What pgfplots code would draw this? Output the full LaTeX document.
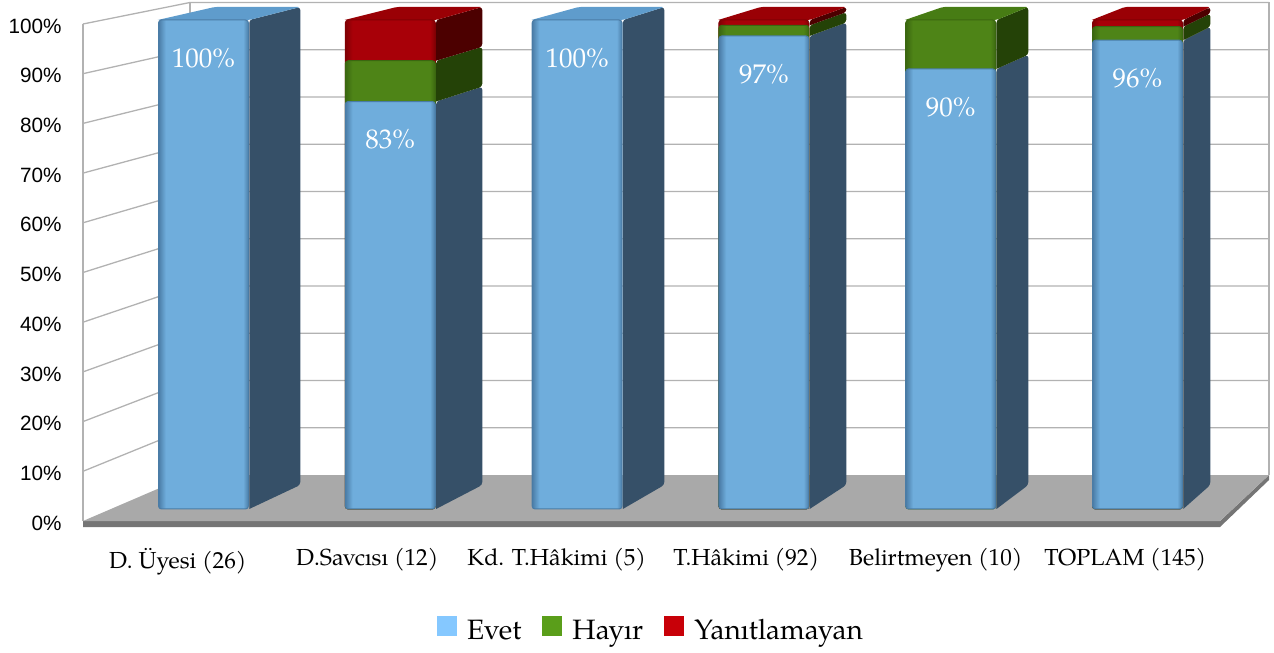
\documentclass[border=0pt]{standalone}
\usepackage{pgfplots}
\usepackage{fontspec}
\pgfplotsset{compat=1.18}
\setmainfont{TeX Gyre Pagella}
\newfontfamily\arial{Liberation Sans}

\definecolor{wallgray}{HTML}{B2B2B2}
\definecolor{floorgray}{HTML}{A9A9A9}
\definecolor{slabgray}{HTML}{757575}
\definecolor{bluem}{HTML}{6FADDC}
\definecolor{bluee}{HTML}{4A7CA6}
\definecolor{bluetop}{HTML}{5F9CCC}
\definecolor{blueside}{HTML}{365068}
\definecolor{greenm}{HTML}{4E8417}
\definecolor{greene}{HTML}{3B6710}
\definecolor{greentop}{HTML}{477C14}
\definecolor{greenside}{HTML}{244207}
\definecolor{redm}{HTML}{A80008}
\definecolor{rede}{HTML}{800004}
\definecolor{redtop}{HTML}{9A0005}
\definecolor{redside}{HTML}{4C0000}
\definecolor{legblue}{HTML}{85C8FF}
\definecolor{leggreen}{HTML}{5A9E1A}
\definecolor{legred}{HTML}{C80008}

\pgfdeclarehorizontalshading{bevelblue}{100bp}{color(0bp)=(bluee);color(25bp)=(bluee);color(29bp)=(bluem);color(72bp)=(bluem);color(75bp)=(bluee);color(100bp)=(bluee)}
\pgfdeclarehorizontalshading{bevelgreen}{100bp}{color(0bp)=(greene);color(25bp)=(greene);color(29bp)=(greenm);color(72bp)=(greenm);color(75bp)=(greene);color(100bp)=(greene)}
\pgfdeclarehorizontalshading{bevelred}{100bp}{color(0bp)=(rede);color(25bp)=(rede);color(29bp)=(redm);color(72bp)=(redm);color(75bp)=(rede);color(100bp)=(rede)}

% depth of a bar: back plane values and x offsets shrink towards the right
\newcommand\sideface[4]{%
  \pgfmathsetmacro\xf{#1+0.245}%
  \pgfmathsetmacro\xb{#1+0.245+0.273-0.0256*#1}%
  \pgfmathsetmacro\ylo{4.91+0.9775*#2}%
  \pgfmathsetmacro\yhi{4.91+0.9775*#3}%
  \edef\temp{\noexpand\addplot[fill=#4,draw=none,rounded corners=3pt] coordinates {(\xf,#2)(\xb,\ylo)(\xb,\yhi)(\xf,#3)(\xf,#2)};}\temp}
\newcommand\topface[3]{%
  \pgfmathsetmacro\xfl{#1-0.245}%
  \pgfmathsetmacro\xfr{#1+0.245}%
  \pgfmathsetmacro\xbl{#1-0.245+0.305-0.0256*#1}%
  \pgfmathsetmacro\xbr{#1+0.245+0.273-0.0256*#1}%
  \pgfmathsetmacro\yb{4.91+0.9775*#2}%
  \edef\temp{\noexpand\addplot[fill=#3,draw=none,rounded corners=2pt] coordinates {(\xfl,#2)(\xbl,\yb)(\xbr,\yb)(\xfr,#2)(\xfl,#2)};}\temp}

\pgfplotsset{
  frame/.style={scale only axis,width=1274pt,height=653pt,at={(0pt,0pt)},anchor=south west,hide axis,clip=false},
  barframe/.style={frame,xmin=-1.0894,xmax=5.7307,ymin=-29.45,ymax=104.09},
  sq/.style={legend image code/.code={\fill[##1,draw=none] (0pt,-5pt) rectangle (20pt,15pt);}},
  front/.style 2 args={ybar,bar width=90pt,bar shift=0pt,draw=#2,line width=1pt,shade,shading=#1,rounded corners=3pt},
  labelled/.style={point meta=y,
    nodes near coords={\pgfmathprintnumber[fixed,precision=0,assume math mode=true]{\pgfplotspointmeta}\%},
    every node near coord/.style={anchor=center,yshift=-38pt,text=white,font=\fontsize{27}{27}\selectfont}},
}

\begin{document}
\begin{tikzpicture}
\path[use as bounding box] (0pt,0pt) rectangle (1274pt,653pt);

% walls and floor, in picture pixels
\begin{axis}[frame,xmin=0,xmax=1274,ymin=0,ymax=653,y dir=reverse]
  \addplot[fill=slabgray,draw=none] coordinates {(83,521)(1220,521)(1269,475)(1269,480)(1220,527)(83,527)(83,521)};
  \addplot[fill=floorgray,draw=none] coordinates {(83,521)(190,475)(1269,475)(1220,521)(83,521)};
  \addplot[wallgray,line width=1.3pt] coordinates {(83,521)(83,24)};
  \addplot[wallgray,line width=1.3pt] coordinates {(190,475)(190,2.5)};
  \addplot[wallgray,line width=1.3pt] coordinates {(1269,475)(1269,2.5)};
  \addplot[wallgray,line width=1.3pt] coordinates {(83,471.3)(190,427.75)(1269,427.75)};
  \addplot[wallgray,line width=1.3pt] coordinates {(83,421.6)(190,380.5)(1269,380.5)};
  \addplot[wallgray,line width=1.3pt] coordinates {(83,371.9)(190,333.25)(1269,333.25)};
  \addplot[wallgray,line width=1.3pt] coordinates {(83,322.2)(190,286)(1269,286)};
  \addplot[wallgray,line width=1.3pt] coordinates {(83,272.5)(190,238.75)(1269,238.75)};
  \addplot[wallgray,line width=1.3pt] coordinates {(83,222.8)(190,191.5)(1269,191.5)};
  \addplot[wallgray,line width=1.3pt] coordinates {(83,173.1)(190,144.25)(1269,144.25)};
  \addplot[wallgray,line width=1.3pt] coordinates {(83,123.4)(190,97)(1269,97)};
  \addplot[wallgray,line width=1.3pt] coordinates {(83,73.7)(190,49.75)(1269,49.75)};
  \addplot[wallgray,line width=1.3pt] coordinates {(83,24)(190,2.5)(1269,2.5)};
\end{axis}

% sides and tops of the bars
\begin{axis}[barframe]
  \sideface{0}{0}{100}{blueside}
  \topface{0}{100}{bluetop}
  \sideface{1}{0}{83.33}{blueside}
  \sideface{1}{83.33}{91.67}{greenside}
  \sideface{1}{91.67}{100}{redside}
  \topface{1}{100}{redtop}
  \sideface{2}{0}{100}{blueside}
  \topface{2}{100}{bluetop}
  \sideface{3}{0}{96.74}{blueside}
  \sideface{3}{96.74}{98.91}{greenside}
  \sideface{3}{98.91}{100}{redside}
  \topface{3}{100}{redtop}
  \sideface{4}{0}{90}{blueside}
  \sideface{4}{90}{100}{greenside}
  \topface{4}{100}{greentop}
  \sideface{5}{0}{95.86}{blueside}
  \sideface{5}{95.86}{98.62}{greenside}
  \sideface{5}{98.62}{100}{redside}
  \topface{5}{100}{redtop}
\end{axis}

% front faces, one plot per bar so that each has its own bevel,
% each segment drawn up to its cumulative top
\begin{axis}[barframe]
  \addplot[front={bevelred}{rede}] coordinates {(1,100)};
  \addplot[front={bevelred}{rede}] coordinates {(3,100)};
  \addplot[front={bevelred}{rede}] coordinates {(5,100)};
  \addplot[front={bevelgreen}{greene}] coordinates {(1,91.67)};
  \addplot[front={bevelgreen}{greene}] coordinates {(3,98.91)};
  \addplot[front={bevelgreen}{greene}] coordinates {(4,100)};
  \addplot[front={bevelgreen}{greene}] coordinates {(5,98.62)};
  \addplot[front={bevelblue}{bluee},labelled] coordinates {(0,100)};
  \addplot[front={bevelblue}{bluee},labelled] coordinates {(1,83.33)};
  \addplot[front={bevelblue}{bluee},labelled] coordinates {(2,100)};
  \addplot[front={bevelblue}{bluee},labelled] coordinates {(3,96.74)};
  \addplot[front={bevelblue}{bluee},labelled] coordinates {(4,90)};
  \addplot[front={bevelblue}{bluee},labelled] coordinates {(5,95.86)};
\end{axis}

% the value axis, its category labels and the legend
\begin{axis}[
  scale only axis,width=1137pt,height=497pt,at={(83pt,132pt)},anchor=south west,
  xmin=-0.5,xmax=5.5,ymin=0,ymax=100,
  axis line style={draw=none},
  major tick length=0pt,
  /pgf/number format/assume math mode=true,
  ytick={0,10,...,100},
  yticklabel={\pgfmathprintnumber{\tick}\%},
  yticklabel style={font=\arial\fontsize{20.7}{21}\selectfont,xshift=-18pt,yshift=-2pt},
  xtick={0,1,2,3,4,5},
  xticklabels={D. Üyesi (26),D.Savcısı (12),Kd. T.Hâkimi (5),T.Hâkimi (92),Belirtmeyen (10),TOPLAM (145)},
  xticklabel style={font=\fontsize{23.2}{24}\selectfont,yshift=-24pt},
  legend columns=3,
  legend style={at={(0.4996,-0.2183)},anchor=center,draw=none,fill=none,
    font=\fontsize{28}{29}\selectfont,
    /tikz/every odd column/.append style={column sep=8pt},
    /tikz/every even column/.append style={column sep=19pt}},
]
  \addlegendimage{sq,fill=legblue}
  \addlegendentry{Evet}
  \addlegendimage{sq,fill=leggreen}
  \addlegendentry{Hayır}
  \addlegendimage{sq,fill=legred}
  \addlegendentry{Yanıtlamayan}
\end{axis}
\end{tikzpicture}
\end{document}
